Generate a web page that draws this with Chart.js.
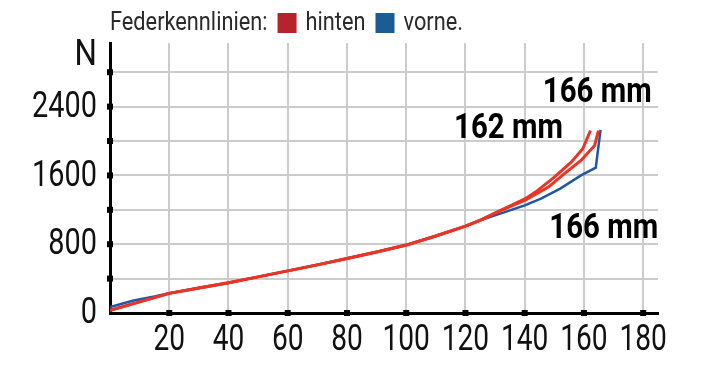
<!DOCTYPE html>
<html>
<head>
<meta charset="utf-8">
<script src="https://cdn.jsdelivr.net/npm/chart.js@4/dist/chart.umd.min.js"></script>
<style>
  html, body { margin: 0; padding: 0; background: #fff; }
  #wrap { width: 712px; height: 377px; }
</style>
</head>
<body>
<div id="wrap"><canvas id="federChart" width="712" height="377"></canvas></div>
<script>
// Federweg in mm und Kraft in N
const vorneX = [0, 4, 8, 15, 20, 30, 40, 50, 60, 70, 80, 90, 100, 110, 120, 125, 130, 135, 140, 145.5, 152, 159, 164, 165.6];
const vorneY = [70, 108, 145, 192, 230, 290, 350, 420, 490, 560, 634, 710, 790, 895, 1010, 1078, 1135, 1194, 1252, 1330, 1446, 1600, 1690, 2130];

const hinten166X = [0, 10, 20, 30, 40, 50, 60, 70, 80, 90, 100, 110, 120, 125, 132, 140, 148, 153.4, 159, 163.6, 164.9];
const hinten166Y = [30, 130, 228, 290, 351, 420, 490, 560, 634, 710, 790, 895, 1010, 1078, 1194, 1310, 1464, 1620, 1774, 1948, 2122];

const hinten162X = [0, 10, 20, 30, 40, 50, 60, 70, 80, 90, 100, 110, 120, 125, 134.2, 140.2, 144.4, 150, 155.7, 159.6, 162.2];
const hinten162Y = [30, 130, 228, 290, 351, 420, 490, 560, 634, 710, 790, 895, 1010, 1080, 1232, 1330, 1426, 1580, 1754, 1910, 2122];

const xGridTicks = [0, 20, 40, 60, 80, 100, 120, 140, 160, 180];
const yGridTicks = [0, 400, 800, 1200, 1600, 2000, 2400, 2800];
const xLabelTicks = [20, 40, 60, 80, 100, 120, 140, 160, 180];
const yLabelTicks = [0, 800, 1600, 2400];
const legendLabels = ['hinten', 'vorne.'];
const legendColors = ['#b5232d', '#1a5c93'];

const FONT = 'Roboto, "DejaVu Sans Condensed", sans-serif';

const toPoints = (xs, ys) => xs.map((x, i) => ({ x: x, y: ys[i] }));

// schmal gestauchter Text (die Vorlage nutzt eine sehr schmale Schrift)
function narrowText(ctx, text, x, y, font, sx, align) {
  ctx.save();
  ctx.font = font;
  ctx.textAlign = align;
  ctx.textBaseline = 'middle';
  ctx.translate(x, y);
  ctx.scale(sx, 1);
  ctx.fillText(text, 0, 0);
  ctx.restore();
}

// Kopfzeile, Achsenbeschriftung, Achsenmarken und Federwege
const extras = {
  id: 'extras',
  afterDraw(chart) {
    const { ctx, chartArea, scales } = chart;
    const sxHead = 0.87;
    ctx.save();

    // Kopfzeile mit Legende
    ctx.font = '25px ' + FONT;
    ctx.fillStyle = '#2a2a2a';
    let x = 110;
    const yMid = 24;
    narrowText(ctx, 'Federkennlinien:', x, yMid, ctx.font, sxHead, 'left');
    x += ctx.measureText('Federkennlinien:').width * sxHead + 10;
    legendLabels.forEach((lab, i) => {
      ctx.fillStyle = legendColors[i];
      ctx.fillRect(x, 13, 19, 20);
      x += 19 + 9;
      ctx.fillStyle = '#2a2a2a';
      narrowText(ctx, lab, x, yMid, ctx.font, sxHead, 'left');
      x += ctx.measureText(lab).width * sxHead + 10;
    });

    // Achsenbeschriftungen
    ctx.fillStyle = '#111';
    const tickFont = '37px ' + FONT;
    xLabelTicks.forEach(v => {
      narrowText(ctx, String(v), scales.x.getPixelForValue(v), chartArea.bottom + 28, tickFont, 0.76, 'center');
    });
    yLabelTicks.forEach(v => {
      narrowText(ctx, String(v), chartArea.left - 13, scales.y.getPixelForValue(v) + 1, tickFont, 0.78, 'right');
    });
    narrowText(ctx, 'N', chartArea.left - 13, chartArea.top + 13, tickFont, 0.85, 'right');

    // schwarze Quadrate an den Achsen
    ctx.fillStyle = '#000';
    scales.x.ticks.forEach(t => {
      if (t.value > 0) ctx.fillRect(scales.x.getPixelForValue(t.value) - 3, chartArea.bottom - 3, 6, 6);
    });
    scales.y.ticks.forEach(t => {
      if (t.value > 0) ctx.fillRect(chartArea.left - 3, scales.y.getPixelForValue(t.value) - 3, 6, 6);
    });

    // Federweg-Beschriftungen
    ctx.fillStyle = '#000';
    const boldFont = 'bold 35px ' + FONT;
    narrowText(ctx, '166 mm', scales.x.getPixelForValue(146.1), scales.y.getPixelForValue(2551), boldFont, 0.84, 'left');
    narrowText(ctx, '162 mm', scales.x.getPixelForValue(152.9), scales.y.getPixelForValue(2133), boldFont, 0.84, 'right');
    narrowText(ctx, '166 mm', scales.x.getPixelForValue(148.3), scales.y.getPixelForValue(974), boldFont, 0.84, 'left');

    ctx.restore();
  }
};

new Chart(document.getElementById('federChart').getContext('2d'), {
  type: 'line',
  data: {
    datasets: [
      {
        label: 'vorne 166 mm',
        data: toPoints(vorneX, vorneY),
        borderColor: '#1f57a6',
        borderWidth: 2.5,
        pointRadius: 0,
        order: 3
      },
      {
        label: 'hinten 166 mm',
        data: toPoints(hinten166X, hinten166Y),
        borderColor: '#ea3526',
        borderWidth: 3,
        pointRadius: 0,
        order: 2
      },
      {
        label: 'hinten 162 mm',
        data: toPoints(hinten162X, hinten162Y),
        borderColor: '#ea3526',
        borderWidth: 3,
        pointRadius: 0,
        order: 1
      }
    ]
  },
  options: {
    responsive: false,
    animation: false,
    events: [],
    layout: {
      padding: { left: 0, right: 54, top: 43, bottom: 0 }
    },
    plugins: {
      legend: { display: false },
      tooltip: { enabled: false }
    },
    scales: {
      x: {
        type: 'linear',
        min: 0,
        max: 185,
        afterBuildTicks: scale => {
          scale.ticks = xGridTicks.map(v => ({ value: v }));
        },
        afterFit: scale => { scale.height = 64; },
        ticks: { autoSkip: false, display: false },
        grid: { color: '#cccccc', lineWidth: 2, drawTicks: false },
        border: { display: true, color: '#000', width: 3 }
      },
      y: {
        type: 'linear',
        min: 0,
        max: 3140,
        afterBuildTicks: scale => {
          scale.ticks = yGridTicks.map(v => ({ value: v }));
        },
        afterFit: scale => { scale.width = 110; },
        ticks: { autoSkip: false, display: false },
        grid: { color: '#cccccc', lineWidth: 2, drawTicks: false },
        border: { display: true, color: '#000', width: 3 }
      }
    }
  },
  plugins: [extras]
});
</script>
</body>
</html>
